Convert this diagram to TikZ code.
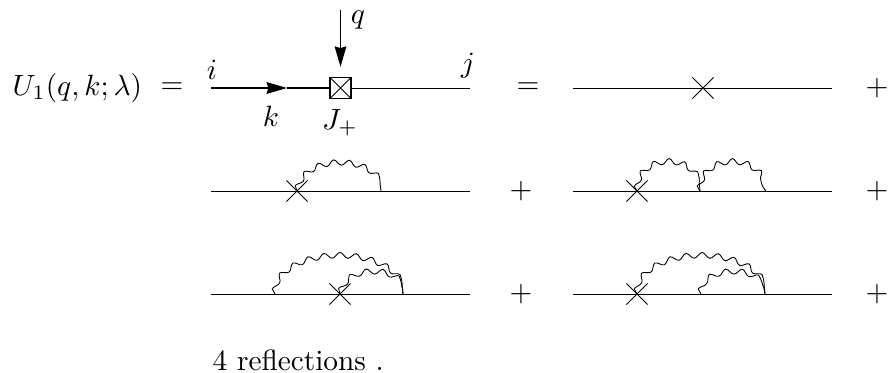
\documentclass[tikz,border=0pt]{standalone}
\usepackage{amsmath,amssymb}
\usepackage{tikz}
\usetikzlibrary{arrows.meta,calc,decorations.pathmorphing,shapes.misc}

\begin{document}
\begin{tikzpicture}[
      x=0.341pt, y=0.341pt,
      dot/.style={inner sep=0pt, outer sep=0pt, minimum size=0pt},
      insertion/.style={cross out, draw=black, line width=0.33pt, inner sep=0pt,
                        outer sep=0pt, minimum size=7.2pt},
      crossbox/.style={rectangle, draw=black, fill=white, line width=0.4pt, inner sep=0pt,
                       minimum size=7.2pt,
                       path picture={\draw[line width=0.3pt]
                         (path picture bounding box.south west) --
                         (path picture bounding box.north east)
                         (path picture bounding box.north west) --
                         (path picture bounding box.south east);}},
      base/.style={line width=0.33pt},
      fermion/.style={-{Stealth[length=7pt,width=4pt,inset=0.6pt]}, line width=0.45pt},
      arrow/.style={-{Stealth[length=7pt,width=4pt,inset=0.6pt]}, line width=0.33pt},
      photon/.style={line width=0.3pt, decorate,
                     decoration={snake, amplitude=0.95pt, segment length=#1}},
      photon/.default=5.1pt,
      sign/.style={inner sep=0pt},
    ]
      % first row
      \useasboundingbox (0,0) rectangle (889,372);
      \node[anchor=west, inner sep=0pt] (lhs) at (12,284) {$U_1(q,k;\lambda)$};
      \node[sign] (eqa) at (172,284) {$=$};
      \node[dot] (ain) at (211,284) {};
      \node[dot] (aout) at (470,284) {};
      \node[dot] (atip) at (287,284) {};
      \node[crossbox] (vert) at (340.5,284) {};
      \node[dot] (qtop) at (340.5,362) {};
      \draw[fermion] (ain) -- (atip);
      \draw[line width=0.45pt] (atip) -- (vert);
      \draw[base] (vert) -- (aout);
      \draw[arrow] (qtop) -- ($(vert.north)+(0,10)$);
      \node (ilab) at (212,302) {$i$};
      \node (jlab) at (468,306) {$j$};
      \node (klab) at (271,256) {$k$};
      \node (jplus) at (340,249) {$J_+$};
      \node (qlab) at (358,352) {$q$};
      \node[sign] (eqb) at (528,284) {$=$};
      \node[dot] (bin) at (573,284) {};
      \node[dot] (bout) at (832,284) {};
      \node[insertion] (bx) at (703,284) {};
      \draw[base] (bin) -- (bout);
      \node[sign] (pa) at (877,284) {$+$};
      % second row
      \node[dot] (cin) at (211,181) {};
      \node[dot] (cout) at (470,181) {};
      \node[insertion] (cx) at (297,181) {};
      \node[dot] (cv) at (381,181) {};
      \coordinate (ctop) at (339,206);
      \draw[base] (cin) -- (cout);
      \draw[photon=5.2pt] (cx.center) .. controls +(3,14) and +(-23,0) .. (ctop)
            .. controls +(23,0) and +(-1,14) .. (cv);
      \node[sign] (pb) at (521,181) {$+$};
      \node[dot] (din) at (573,181) {};
      \node[dot] (dout) at (832,181) {};
      \node[insertion] (dx) at (637,181) {};
      \node[dot] (dv) at (700,181) {};
      \node[dot] (dw) at (765,181) {};
      \coordinate (dtopa) at (668.5,207);
      \coordinate (dtopb) at (732.5,207);
      \draw[base] (din) -- (dout);
      \draw[photon] (dx.center) .. controls +(0,14) and +(-18,0) .. (dtopa)
            .. controls +(18,0) and +(0,14) .. (dv);
      \draw[photon] (dv) .. controls +(0,14) and +(-18,0) .. (dtopb)
            .. controls +(18,0) and +(0,14) .. (dw);
      \node[sign] (pc) at (877,181) {$+$};
      % third row
      \node[dot] (ein) at (211,78) {};
      \node[dot] (eout) at (470,78) {};
      \node[insertion] (ex) at (340,78) {};
      \node[dot] (eu) at (275,78) {};
      \node[dot] (ev) at (403,78) {};
      \coordinate (etopa) at (339,113);
      \coordinate (etopb) at (372,97);
      \draw[base] (ein) -- (eout);
      \draw[photon=5.4pt] (eu) .. controls +(0,19) and +(-35,0) .. (etopa)
            .. controls +(35,0) and +(0,19) .. (ev);
      \draw[photon=5.5pt] (ex.center) .. controls +(3,11) and +(-17,0) .. (etopb)
            .. controls +(17,0) and +(0,11) .. (ev);
      \node[sign] (pd) at (521,78) {$+$};
      \node[dot] (fin) at (573,78) {};
      \node[dot] (fout) at (832,78) {};
      \node[insertion] (fx) at (637,78) {};
      \node[dot] (fu) at (701,78) {};
      \node[dot] (fv) at (765,78) {};
      \coordinate (ftopa) at (701,113);
      \coordinate (ftopb) at (733,97);
      \draw[base] (fin) -- (fout);
      \draw[photon=5.4pt] (fx.center) .. controls +(0,19) and +(-35,0) .. (ftopa)
            .. controls +(35,0) and +(0,19) .. (fv);
      \draw[photon=5.5pt] (fu) .. controls +(0,11) and +(-17,0) .. (ftopb)
            .. controls +(17,0) and +(0,11) .. (fv);
      \node[sign] (pe) at (877,78) {$+$};
      % last line
      \node[anchor=base west, inner sep=0pt] (refl) at (212,2) {4 reflections .};
    \end{tikzpicture}
\end{document}
